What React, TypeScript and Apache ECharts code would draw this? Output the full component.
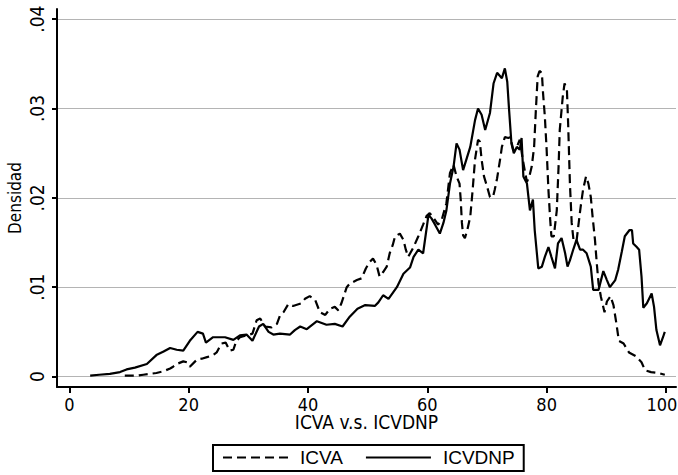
import React, { useEffect, useRef } from "react";
import * as echarts from "echarts";

// Kernel density estimates of the two indices (x: index value, y: density)
const icvaX = [
  9.3, 11.4, 12.4, 13.5, 14.6, 15.8, 16.9, 17.4, 18.0, 19.1, 19.7, 20.2, 21.4, 22.2, 23.2, 24.1, 24.7,
  25.5, 26.2, 26.9, 27.5, 28.0, 28.6, 29.7, 30.7, 31.4, 32.0, 32.8, 33.9, 34.8, 35.3, 35.9, 36.7,
  37.5, 38.9, 39.5, 40.3, 41.2, 42.0, 42.9, 43.7, 44.5, 45.1, 45.6, 46.5, 47.0, 48.2, 49.0, 49.7,
  50.3, 50.9, 51.5, 52.0, 52.6, 53.2, 53.7, 54.2, 54.6, 55.4, 56.0, 56.4, 56.8, 57.7, 58.5, 59.3,
  59.9, 60.4, 61.3, 61.8, 62.4, 63.2, 63.8, 64.4, 64.9, 65.4, 65.6, 65.8, 66.0, 66.3, 66.7, 67.2,
  67.6, 68.0, 68.5, 68.8, 69.1, 69.5, 70.0, 70.5, 71.0, 71.3, 71.7, 72.2, 72.5, 73.0, 73.6, 73.9,
  74.4, 75.0, 75.5, 76.0, 76.4, 76.7, 77.1, 77.5, 77.9, 78.2, 78.5, 78.8, 79.2, 79.4, 79.7, 80.0,
  80.3, 80.6, 80.8, 81.2, 81.7, 82.0, 82.2, 82.7, 83.0, 83.4, 83.6, 83.9, 84.2, 84.5, 85.0, 85.3,
  85.7, 86.1, 86.6, 87.0, 87.4, 87.7, 88.1, 88.4, 88.7, 89.1, 89.7, 90.1, 90.7, 91.2, 91.7, 92.1,
  92.9, 93.8, 94.9, 95.9, 96.5, 97.5, 98.7, 99.8,
];
const icvaY = [
  0.0001, 0.0001, 0.0002, 0.0003, 0.0004, 0.0006, 0.0009, 0.0011, 0.0014, 0.0017, 0.0016, 0.0011,
  0.0019, 0.002, 0.0022, 0.0024, 0.0027, 0.0037, 0.0038, 0.0029, 0.003, 0.004, 0.0044, 0.0046,
  0.0048, 0.0063, 0.0065, 0.0056, 0.0055, 0.0059, 0.0068, 0.0072, 0.0081, 0.0079, 0.0082, 0.0087,
  0.009, 0.0086, 0.0072, 0.0069, 0.0076, 0.0078, 0.0074, 0.0082, 0.01, 0.0104, 0.0108, 0.011,
  0.0121, 0.0128, 0.0132, 0.0125, 0.0112, 0.0117, 0.0123, 0.0138, 0.0147, 0.0157, 0.016, 0.0153,
  0.0142, 0.0134, 0.0145, 0.0157, 0.017, 0.018, 0.0183, 0.0175, 0.017, 0.0175, 0.0194, 0.0228,
  0.0237, 0.0224, 0.0216, 0.0198, 0.0172, 0.0158, 0.0155, 0.0164, 0.0179, 0.0209, 0.0243, 0.0265,
  0.0263, 0.0243, 0.0224, 0.0213, 0.0201, 0.0201, 0.0209, 0.0222, 0.0243, 0.0257, 0.0268, 0.0267,
  0.0268, 0.0254, 0.0257, 0.0265, 0.0243, 0.0228, 0.0218, 0.0224, 0.0235, 0.0257, 0.0299, 0.0336,
  0.0342, 0.034, 0.0317, 0.0291, 0.0254, 0.0209, 0.0175, 0.0157, 0.0157, 0.0186, 0.0235, 0.0276,
  0.0313, 0.0328, 0.0321, 0.0284, 0.0216, 0.0172, 0.0153, 0.0151, 0.0168, 0.019, 0.0209, 0.0224,
  0.0216, 0.0201, 0.0179, 0.0153, 0.0127, 0.0104, 0.0089, 0.0072, 0.0084, 0.009, 0.008, 0.0059,
  0.004, 0.0037, 0.0027, 0.0023, 0.0016, 0.0007, 0.0005, 0.0004, 0.0002,
];

const icvdnpX = [
  3.5, 5.0, 6.8, 8.5, 9.6, 11.0, 13.0, 14.6, 15.8, 16.9, 18.0, 19.1, 20.2, 21.5, 22.4, 22.9, 24.1,
  26.1, 27.5, 28.6, 29.7, 30.7, 31.8, 32.5, 33.4, 34.2, 35.3, 37.0, 37.8, 38.7, 39.8, 41.5, 43.1,
  44.5, 45.8, 47.0, 48.3, 49.6, 51.2, 51.8, 52.6, 53.5, 54.9, 56.0, 57.1, 57.7, 58.5, 59.3, 60.2,
  60.7, 61.3, 62.1, 62.7, 63.2, 63.8, 64.4, 64.9, 65.4, 66.0, 67.2, 68.0, 68.5, 69.1, 69.7, 70.5,
  71.1, 71.7, 72.5, 73.0, 73.4, 73.7, 74.1, 74.5, 75.0, 75.5, 75.8, 76.1, 76.7, 77.2, 77.7, 78.0,
  78.6, 79.2, 79.7, 80.3, 80.8, 81.4, 81.9, 82.5, 83.1, 83.5, 83.9, 84.5, 85.0, 85.6, 86.1, 86.7,
  87.4, 87.8, 88.7, 89.5, 90.1, 90.6, 91.5, 92.0, 92.6, 93.1, 93.9, 94.3, 94.5, 95.1, 95.5, 95.9,
  96.2, 96.8, 97.6, 98.0, 98.4, 99.0, 99.5, 99.8,
];
const icvdnpY = [
  0.0001, 0.0002, 0.0003, 0.0005, 0.0008, 0.001, 0.0014, 0.0024, 0.0028, 0.0032, 0.003, 0.0029,
  0.004, 0.005, 0.0048, 0.0038, 0.0044, 0.0044, 0.0041, 0.0046, 0.0047, 0.004, 0.0056, 0.0059,
  0.005, 0.0047, 0.0048, 0.0047, 0.0052, 0.0056, 0.0053, 0.0062, 0.0058, 0.0059, 0.0056, 0.0067,
  0.0076, 0.008, 0.0079, 0.0083, 0.0091, 0.0087, 0.01, 0.0115, 0.0122, 0.0134, 0.0142, 0.0138,
  0.0181, 0.0177, 0.017, 0.016, 0.0172, 0.0186, 0.0216, 0.0235, 0.0261, 0.0254, 0.0231, 0.0257,
  0.0287, 0.03, 0.0293, 0.0276, 0.0295, 0.0328, 0.034, 0.0334, 0.0345, 0.033, 0.0299, 0.0261,
  0.025, 0.0257, 0.0254, 0.0267, 0.0224, 0.0216, 0.0186, 0.0198, 0.0164, 0.0121, 0.0123, 0.0134,
  0.0145, 0.0134, 0.0121, 0.0149, 0.0155, 0.0138, 0.0123, 0.013, 0.0143, 0.0153, 0.0142, 0.0142,
  0.0138, 0.0123, 0.0097, 0.0097, 0.0118, 0.0108, 0.01, 0.0108, 0.012, 0.014, 0.0157, 0.0164,
  0.0164, 0.0149, 0.0145, 0.0142, 0.0112, 0.0077, 0.0082, 0.0093, 0.0078, 0.0052, 0.0035, 0.0044,
  0.005,
];

const xTicks = [0, 20, 40, 60, 80, 100];
const yTicks = [0, 0.01, 0.02, 0.03, 0.04];

const seriesNames = ["ICVA", "ICVDNP"];
const xTitle = "ICVA v.s. ICVDNP";
const yTitle = "Densidad";

const zip = (xs: number[], ys: number[]) => xs.map((x, i) => [x, ys[i]]);

const condensed = "'DejaVu Sans Condensed', 'Liberation Sans Narrow', sans-serif";
const regular = "'Liberation Sans', Arial, sans-serif";

export default function App() {
  const ref = useRef<HTMLDivElement>(null);

  useEffect(() => {
    if (!ref.current) return;
    const chart = echarts.init(ref.current, null, { renderer: "svg" });
    const lastX = xTicks[xTicks.length - 1];
    chart.setOption({
      animation: false,
      backgroundColor: "#ffffff",
      grid: {
        left: 57,
        right: 2,
        top: 9,
        bottom: 88,
        containLabel: false,
        outerBoundsMode: "none",
      },
      legend: {
        left: 213,
        top: 445,
        orient: "horizontal",
        data: seriesNames,
        itemWidth: 65,
        itemHeight: 14,
        itemGap: 22,
        padding: [3, 9, 4, 9],
        borderColor: "#000000",
        borderWidth: 2,
        borderRadius: 0,
        itemStyle: { opacity: 0, borderWidth: 0 },
        textStyle: {
          fontFamily: regular,
          fontSize: 19,
          color: "#000000",
          padding: [0, 0, 0, 7],
        },
      },
      xAxis: {
        type: "value",
        min: -2.06,
        max: 101.68,
        name: xTitle,
        nameLocation: "middle",
        nameGap: 25,
        nameMoveOverlap: false,
        nameTextStyle: { fontFamily: condensed, fontSize: 19, color: "#000000" },
        axisLine: { show: true, onZero: false, lineStyle: { color: "#000000", width: 2 } },
        axisTick: {
          show: true,
          length: 6,
          customValues: xTicks,
          lineStyle: { color: "#000000", width: 2 },
        },
        axisLabel: {
          customValues: xTicks,
          margin: 8,
          fontFamily: condensed,
          fontSize: 18,
          color: "#000000",
          // keep the last label inside the canvas
          formatter: (v: number) => (v === lastX ? `{last|${v}}` : String(v)),
          rich: {
            last: { fontFamily: condensed, fontSize: 18, color: "#000000", padding: [0, 8, 0, 0] },
          },
        },
        splitLine: { show: false },
      },
      yAxis: {
        type: "value",
        min: -0.00117,
        max: 0.04114,
        name: yTitle,
        nameLocation: "middle",
        nameRotate: 90,
        nameGap: 34,
        nameMoveOverlap: false,
        nameTextStyle: { fontFamily: condensed, fontSize: 17, color: "#000000" },
        axisLine: { show: true, onZero: false, lineStyle: { color: "#000000", width: 2 } },
        axisTick: {
          show: true,
          length: 5,
          customValues: yTicks,
          lineStyle: { color: "#000000", width: 2 },
        },
        axisLabel: {
          customValues: yTicks,
          rotate: 90,
          margin: 11,
          fontFamily: condensed,
          fontSize: 19,
          color: "#000000",
          formatter: (v: number) => (v === 0 ? "0" : String(v).replace(/^0/, "")),
        },
        splitLine: { show: true, lineStyle: { color: "#b4b4b4", width: 1 } },
      },
      series: [
        {
          name: seriesNames[0],
          type: "line",
          data: zip(icvaX, icvaY),
          symbol: "none",
          lineStyle: { color: "#000000", width: 2.2, type: [9, 5] },
          itemStyle: { color: "#000000" },
        },
        {
          name: seriesNames[1],
          type: "line",
          data: zip(icvdnpX, icvdnpY),
          symbol: "none",
          lineStyle: { color: "#000000", width: 2.2, type: "solid" },
          itemStyle: { color: "#000000" },
        },
      ],
    });
    return () => chart.dispose();
  }, []);

  return (
    <div
      ref={ref}
      style={{ position: "fixed", left: 0, top: 0, width: 678, height: 475, background: "#fff" }}
    />
  );
}
